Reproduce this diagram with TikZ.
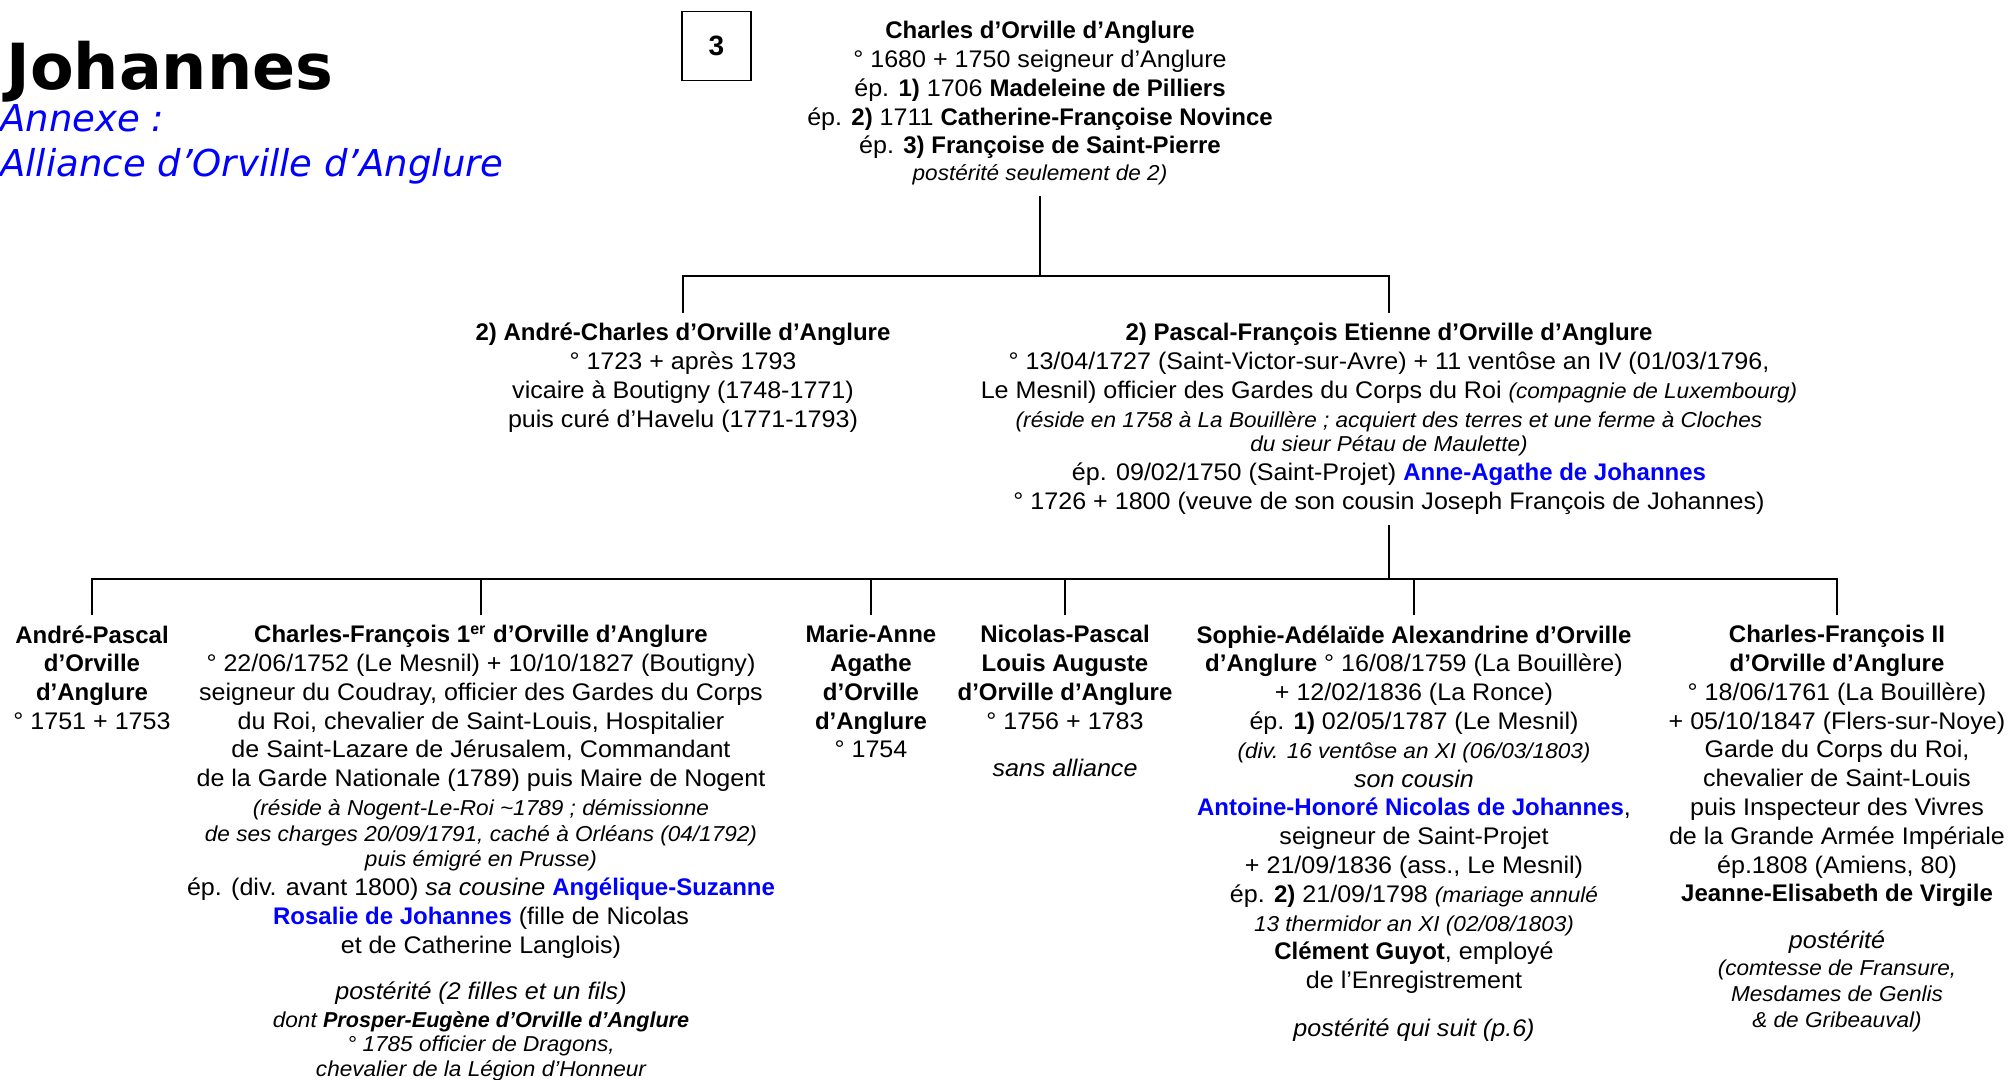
\documentclass[tikz,border=0pt]{standalone}
\usepackage{fontspec}
\setmainfont{Liberation Sans}[UprightFeatures={FakeStretch=1.045}, ItalicFeatures={FakeStretch=1.045}]
\newfontfamily\titlefont{DejaVu Sans}
\definecolor{jblue}{RGB}{0,0,255}
\newcommand{\petit}{\fontsize{10.8}{12.8}\selectfont\itshape}
\newcommand{\bleu}[1]{\textcolor{jblue}{\textbf{#1}}}
\tikzset{
  person/.style={align=center, anchor=north, inner xsep=0pt, inner ysep=5pt,
    font=\fontsize{12}{14.4}\selectfont},
  link/.style={line width=1pt}
}
\begin{document}
\begin{tikzpicture}[x=0.5pt, y=-0.5pt]
\useasboundingbox (0,0) rectangle (2009,1080);
% titre
\node[anchor=base west, inner sep=0pt, font=\titlefont\bfseries\fontsize{31.8}{38}\selectfont] (title) at (6,90) {Johannes};
\node[anchor=base west, inner sep=0pt, text=jblue, font=\titlefont\itshape\fontsize{18.5}{22.5}\selectfont] (annexe) at (0,132) {Annexe :};
\node[anchor=base west, inner sep=0pt, text=jblue, font=\titlefont\itshape\fontsize{18.5}{22.5}\selectfont] (alliance) at (0,177) {Alliance d’Orville d’Anglure};
\node[draw, line width=0.7pt, minimum size=34.5pt, inner sep=0pt, font=\bfseries\fontsize{14}{16}\selectfont] (num) at (716.5,46) {3};
% generation 1
\node[person] (top) at (1040,11) {\textbf{Charles d’Orville d’Anglure}\\
  ° 1680 + 1750 seigneur d’Anglure\\
  ép. \textbf{1)} 1706 \textbf{Madeleine de Pilliers}\\
  ép. \textbf{2)} 1711 \textbf{Catherine-Françoise Novince}\\
  ép. \textbf{3) Françoise de Saint-Pierre}\\[-0.9pt]
  {\petit postérité seulement de 2)}};
% generation 2
\node[person] (andre) at (683,313) {\textbf{2) André-Charles d’Orville d’Anglure}\\
  ° 1723 + après 1793\\
  vicaire à Boutigny (1748-1771)\\
  puis curé d’Havelu (1771-1793)};
\node[person] (pascal) at (1389,313) {\textbf{2) Pascal-François Etienne d’Orville d’Anglure}\\
  ° 13/04/1727 (Saint-Victor-sur-Avre) + 11 ventôse an IV (01/03/1796,\\
  Le Mesnil) officier des Gardes du Corps du Roi {\petit (compagnie de Luxembourg)}\\
  {\petit (réside en 1758 à La Bouillère ; acquiert des terres et une ferme à Cloches}\\[-2pt]
  {\petit du sieur Pétau de Maulette)}\\
  ép. 09/02/1750 (Saint-Projet) \bleu{Anne-Agathe de Johannes}\\
  ° 1726 + 1800 (veuve de son cousin Joseph François de Johannes)};
% generation 3
\node[person] (andrep) at (92,615) {\textbf{André-Pascal}\\
  \textbf{d’Orville}\\
  \textbf{d’Anglure}\\
  ° 1751 + 1753};
\node[person] (charlesf) at (481,615) {\textbf{Charles-François 1\textsuperscript{er} d’Orville d’Anglure}\\
  ° 22/06/1752 (Le Mesnil) + 10/10/1827 (Boutigny)\\
  seigneur du Coudray, officier des Gardes du Corps\\
  du Roi, chevalier de Saint-Louis, Hospitalier\\
  de Saint-Lazare de Jérusalem, Commandant\\
  de la Garde Nationale (1789) puis Maire de Nogent\\
  {\petit (réside à Nogent-Le-Roi \textasciitilde1789 ; démissionne}\\[-1.6pt]
  {\petit de ses charges 20/09/1791, caché à Orléans (04/1792)}\\[-1.6pt]
  {\petit puis émigré en Prusse)}\\
  ép. (div. avant 1800) \textit{sa cousine} \bleu{Angélique-Suzanne}\\
  \bleu{Rosalie de Johannes} (fille de Nicolas\\
  et de Catherine Langlois)\\[9pt]
  \textit{postérité (2 filles et un fils)}\\[-0.8pt]
  {\petit dont \textbf{Prosper-Eugène d’Orville d’Anglure}}\\[-2pt]
  {\petit ° 1785 officier de Dragons,}\\[-2pt]
  {\petit chevalier de la Légion d’Honneur}};
\node[person] (marie) at (871,615) {\textbf{Marie-Anne}\\
  \textbf{Agathe}\\
  \textbf{d’Orville}\\
  \textbf{d’Anglure}\\
  ° 1754};
\node[person] (nicolas) at (1065,615) {\textbf{Nicolas-Pascal}\\
  \textbf{Louis Auguste}\\
  \textbf{d’Orville d’Anglure}\\
  ° 1756 + 1783\\[9.5pt]
  \textit{sans alliance}};
\node[person] (sophie) at (1414,615) {\textbf{Sophie-Adélaïde Alexandrine d’Orville}\\
  \textbf{d’Anglure} ° 16/08/1759 (La Bouillère)\\
  + 12/02/1836 (La Ronce)\\
  ép. \textbf{1)} 02/05/1787 (Le Mesnil)\\
  {\petit (div. 16 ventôse an XI (06/03/1803)}\\
  \textit{son cousin}\\
  \bleu{Antoine-Honoré Nicolas de Johannes},\\
  seigneur de Saint-Projet\\
  + 21/09/1836 (ass., Le Mesnil)\\
  ép. \textbf{2)} 21/09/1798 {\petit (mariage annulé}\\
  {\petit 13 thermidor an XI (02/08/1803)}\\
  \textbf{Clément Guyot}, employé\\
  de l’Enregistrement\\[9.5pt]
  \textit{postérité qui suit (p.6)}};
\node[person] (charles2) at (1837,615) {\textbf{Charles-François II}\\
  \textbf{d’Orville d’Anglure}\\
  ° 18/06/1761 (La Bouillère)\\
  + 05/10/1847 (Flers-sur-Noye)\\
  Garde du Corps du Roi,\\
  chevalier de Saint-Louis\\
  puis Inspecteur des Vivres\\
  de la Grande Armée Impériale\\
  ép.1808 (Amiens, 80)\\
  \textbf{Jeanne-Elisabeth de Virgile}\\[9pt]
  \textit{postérité}\\[-0.8pt]
  {\petit (comtesse de Fransure,}\\[-1.6pt]
  {\petit Mesdames de Genlis}\\[-1.6pt]
  {\petit \& de Gribeauval)}};
% liens
\coordinate (bar1) at (0,276);
\coordinate (bar2) at (0,579);
\draw[link] (top.south) -- (top.south |- bar1);
\draw[link] (andre.north) |- (top.south |- bar1) -| (pascal.north);
\draw[link] (pascal.south) -- (pascal.south |- bar2);
\draw[link] (andrep.north) |- (pascal.south |- bar2) -| (charles2.north);
\foreach \n in {charlesf, marie, nicolas, sophie}
  \draw[link] (\n.north) -- (\n.north |- bar2);
\end{tikzpicture}
\end{document}
